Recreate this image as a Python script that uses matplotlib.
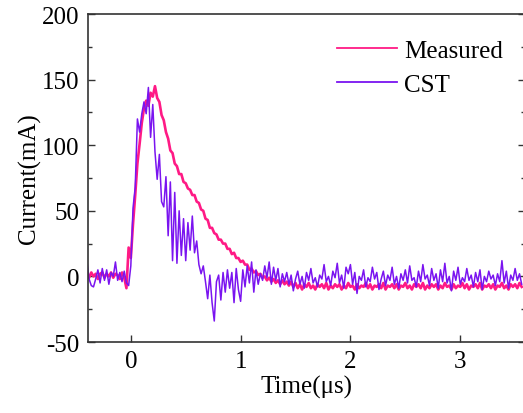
import numpy as np
import matplotlib
matplotlib.use('Agg')
import matplotlib.pyplot as plt
from matplotlib.ticker import MultipleLocator

plt.rcParams['font.family'] = ['Liberation Serif', 'DejaVu Serif']
plt.rcParams['axes.unicode_minus'] = False

# sample times (us), 0.02 us step
t = np.round(np.arange(-0.40, 3.5601, 0.02), 2)

measured = [
    2, -1, 3, 0, 2, -2, 2, 3, -1, 2,
    0, 3, -1, 2, 1, -2, 3, -1, -9, 22,
    14, 40, 62, 86, 101, 117, 128, 134, 130, 140,
    137, 145, 136, 133, 123, 119, 110, 105, 96, 94,
    86, 84, 78, 78, 72, 71, 67, 66, 62, 62,
    57, 56, 51, 50, 44, 43, 37, 37, 33, 32,
    28, 28, 25, 25, 21, 21, 17, 18, 14, 14,
    11, 12, 9, 9, 5, 6, 3, 4, 1, 2,
    -1, 0, -3, -1, -4, -2, -5, -3, -6, -3,
    -6, -4, -7, -4, -8, -5,
    -9, -6, -10, -6, -8, -5, -9, -7, -10, -6,
    -8, -6, -9, -5, -10, -7, -9, -6, -8, -6,
    -10, -7, -9, -5, -8, -7, -10, -6, -9, -7,
    -8, -5, -9, -6, -10, -7, -8, -6, -9, -5,
    -10, -7, -8, -6, -9, -6, -10, -7, -8, -5,
    -9, -7, -10, -6, -8, -6, -9, -5, -10, -7,
    -9, -6, -8, -6, -10, -7, -9, -5, -8, -7,
    -10, -6, -9, -7, -8, -5, -9, -6, -10, -7,
    -8, -6, -9, -5, -10, -7, -8, -6, -9, -6,
    -10, -7, -8, -5, -9, -7, -10, -6, -8, -6,
    -9, -5, -8,
]

cst = [
    12, -2, -7, -8, -2, 5, -5, 6, -3, 5,
    -6, 3, 0, 11, -3, 3, -4, 4, -5, -7,
    8, 52, 68, 120, 110, 124, 133, 124, 144, 106,
    131, 95, 74, 93, 57, 53, 76, 31, 72, 12,
    64, 10, 50, 16, 44, 12, 41, 20, 46, 18,
    27, 9, 2, 8, -4, -17, 1, -20, -34, -4,
    1, -18, 3, -12, 5, -9, 3, -20, 6, -10,
    -19, 5, -8, 8, -5, 11, -12, 5, -6, 2,
    -3, 8, -1, 11, -6, 7, -3, 6, -8, 2,
    -4, 3, -6, 1, -11, -2,
    4, -6, 0, -9, 3, -3, 6, -5, -1, -8,
    1, -2, 9, -4, 0, -7, 4, -1, 10, -5,
    1, -9, 7, 2, 9, -6, 3, -13, 0, -3,
    5, -8, -1, -4, 7, -2, 3, -10, -2, 4,
    -7, 1, -3, 7, -6, 0, -9, 2, -3, 5,
    -5, 8, -3, -1, -8, 4, -4, 9, -2, 1,
    -7, 6, -3, 2, -9, 5, -4, 10, -5, 0,
    -11, 4, -3, 7, -6, -1, -4, 6, -3, 1,
    -8, 3, -4, 5, -10, 0, -4, 4, -2, 1,
    -7, 2, -4, 12, -5, 4, -9, 1, -3, 6,
    -3, 2, -6,
]

fig = plt.figure(figsize=(5.23, 4.14), dpi=100)
ax = fig.add_axes([88 / 523, 1 - 343 / 414, (525 - 88) / 523, (343 - 15) / 414])

ax.plot(t, measured, color='#FF1A85', lw=1.9, label='Measured')
ax.plot(t, cst, color='#7A14F0', lw=1.1, label='CST')

ax.set_xlim(-0.39, 3.59)
ax.set_ylim(-50, 200)
ax.set_xticks([0, 1, 2, 3])
ax.yaxis.set_major_locator(MultipleLocator(50))
ax.yaxis.set_minor_locator(MultipleLocator(25))

ax.tick_params(which='both', direction='in', top=False, right=True,
               labelsize=18, width=1, color='#333333')
ax.tick_params(which='major', length=5, pad=6)
ax.tick_params(which='minor', length=3)
for s in ax.spines.values():
    s.set_linewidth(1.2)
    s.set_color('#333333')

ax.set_xlabel('Time(μs)', fontsize=18, labelpad=2)
ax.set_ylabel('Current(mA)', fontsize=18, labelpad=1)

leg = ax.legend(loc='upper right', frameon=False, fontsize=18, handlelength=2.4,
                handletextpad=0.3, labelspacing=0.45, borderaxespad=0.3,
                bbox_to_anchor=(0.99, 0.975))
for h in leg.get_lines():
    h.set_linewidth(1.3)

fig.savefig('out.png', dpi=100)
